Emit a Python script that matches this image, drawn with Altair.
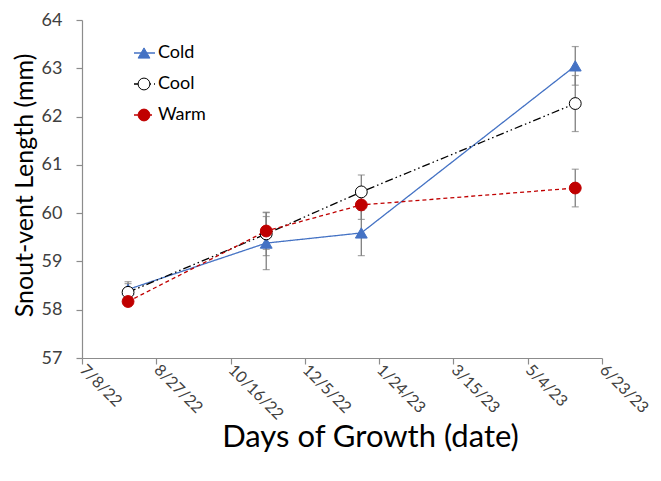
import altair as alt
import pandas as pd

# ---- data ----
series = ["Cold", "Cool", "Warm"]
dates = ["2022-08-08", "2022-11-09", "2023-01-12", "2023-06-05"]
cold = [58.42, 59.38, 59.59, 63.05]
cold_err = [0.16, 0.55, 0.47, 0.40]
cool = [58.36, 59.57, 60.44, 62.27]
cool_err = [0.18, 0.45, 0.35, 0.58]
warm = [58.17, 59.63, 60.17, 60.52]
warm_err = [0.10, 0.38, 0.30, 0.39]
tick_dates = ["2022-07-08", "2022-08-27", "2022-10-16", "2022-12-05",
              "2023-01-24", "2023-03-15", "2023-05-04", "2023-06-23"]
y_ticks = [57, 58, 59, 60, 61, 62, 63, 64]

colors = ["#4472C4", "#000000", "#C00000"]
fills = ["#4472C4", "#FFFFFF", "#C00000"]
shapes = ["triangle-up", "circle", "circle"]
dashes = [[1, 0], [8, 3, 1.5, 3, 1.5, 3], [4, 3]]

rows = []
for name, vals, errs in [("Cold", cold, cold_err), ("Cool", cool, cool_err), ("Warm", warm, warm_err)]:
    for d, v, e in zip(dates, vals, errs):
        rows.append({"series": name, "date": d, "value": v, "lo": v - e, "hi": v + e})
df = pd.DataFrame(rows)
leg = pd.DataFrame({"series": series})

tick_ms = [int(pd.Timestamp(t, tz="UTC").timestamp() * 1000) for t in tick_dates]

xenc = alt.X("date:T",
             scale=alt.Scale(type="utc", domain=[tick_ms[0], tick_ms[-1]], nice=False),
             axis=alt.Axis(values=tick_ms,
                           labelExpr="utcFormat(datum.value, '%-m/%-d/%y')",
                           labelAngle=45, labelAlign="left", labelBaseline="middle",
                           labelPadding=3, labelFontSize=16, title="Days of Growth (date)",
                           titleFontSize=31, titleX=288, titleY=79, titleBaseline="middle"))
yscale = alt.Scale(domain=[57, 64], nice=False, zero=False)
yenc = alt.Y("value:Q", scale=yscale,
             axis=alt.Axis(values=y_ticks, title="Snout-vent Length (mm)", labelPadding=14,
                           labelFontSize=18,
                           titleFontSize=25, titleX=-58, titleY=165, titleBaseline="middle"))

col_scale = alt.Scale(domain=series, range=colors)
dash_scale = alt.Scale(domain=series, range=dashes)
shape_scale = alt.Scale(domain=series, range=shapes)
fill_scale = alt.Scale(domain=series, range=fills)

base = alt.Chart(df)

err_rule = base.mark_rule(color="#7F7F7F", strokeWidth=1.3).encode(
    x=xenc, y=alt.Y("lo:Q", scale=yscale), y2="hi:Q")
cap_lo = base.mark_tick(color="#7F7F7F", orient="horizontal", size=7, thickness=1.2).encode(
    x="date:T", y=alt.Y("lo:Q", scale=yscale))
cap_hi = base.mark_tick(color="#7F7F7F", orient="horizontal", size=7, thickness=1.2).encode(
    x="date:T", y=alt.Y("hi:Q", scale=yscale))

lines = base.mark_line(strokeWidth=1.3).encode(
    x=xenc, y=yenc,
    color=alt.Color("series:N", scale=col_scale, legend=None),
    strokeDash=alt.StrokeDash("series:N", scale=dash_scale, legend=None))

points = base.mark_point(filled=True, opacity=1, strokeWidth=1, size=140).encode(
    x=xenc, y=yenc,
    shape=alt.Shape("series:N", scale=shape_scale, legend=None),
    fill=alt.Fill("series:N", scale=fill_scale, legend=None),
    stroke=alt.Stroke("series:N", scale=col_scale, legend=None))

# ---- legend drawn as a layer ----
leg_y = alt.Y("series:N", scale=alt.Scale(type="point", domain=series, range=[33, 95], padding=0),
              axis=None)
lg = alt.Chart(leg)
leg_line = lg.mark_rule(strokeWidth=1.3).encode(
    x=alt.value(52), x2=alt.value(73), y=leg_y,
    color=alt.Color("series:N", scale=col_scale, legend=None),
    strokeDash=alt.StrokeDash("series:N", scale=dash_scale, legend=None))
leg_pt = lg.mark_point(filled=True, opacity=1, strokeWidth=1, size=140).encode(
    x=alt.value(62), y=leg_y,
    shape=alt.Shape("series:N", scale=shape_scale, legend=None),
    fill=alt.Fill("series:N", scale=fill_scale, legend=None),
    stroke=alt.Stroke("series:N", scale=col_scale, legend=None))
leg_txt = lg.mark_text(align="left", baseline="middle", font="Lato", fontSize=18,
                       color="#000000").encode(
    x=alt.value(76), y=leg_y, text="series:N")

legend = alt.layer(leg_line, leg_pt, leg_txt)
main = alt.layer(err_rule, cap_lo, cap_hi, lines, points)

chart = alt.layer(main, legend).resolve_scale(y="independent").properties(
    width=520, height=338,
    autosize=alt.AutoSizeParams(type="none"),
    padding={"left": 74, "top": 12, "right": 51, "bottom": 104},
).configure_view(stroke=None).configure_axis(
    grid=False, labelFont="Lato", labelColor="#404040",
    titleFont="Lato", titleFontWeight="normal", titleColor="#000000",
    domainColor="#8C8C8C", tickColor="#8C8C8C", tickSize=6, domainWidth=1.2, tickWidth=1.2)

chart.save("out.html", embed_options={"renderer": "svg", "actions": False})
